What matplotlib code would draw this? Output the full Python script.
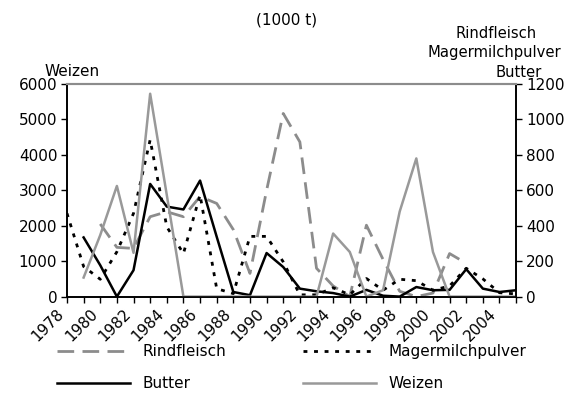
import matplotlib
matplotlib.use('Agg')
import matplotlib.pyplot as plt
import matplotlib.transforms as mtransforms
import numpy as np

nan = np.nan
years = list(range(1978, 2006))

# right axis (1000 t)
rindfleisch = [nan, nan, 410, 278, 272, 451, 479, 451, 565, 526, 378, 131, 600, 1034,
               873, 160, 60, 0, 403, 210, 30, 0, 20, 243, 188, nan, nan, nan]
magermilch = [470, 170, 98, 253, 470, 885, 394, 243, 574, 45, 17, 340, 340, 196,
              10, 10, 50, 10, 102, 36, 98, 90, 36, 60, 160, 100, 22, 15]
butter = [nan, 334, 177, 0, 149, 636, 508, 492, 655, 338, 26, 8, 246, 167,
          45, 30, 20, 0, 38, 5, 0, 54, 36, 38, 155, 45, 26, 36]
# left axis (1000 t)
weizen = [nan, 538, 1736, 3123, 1236, 5726, 2868, 0, 0, 0, 0, 0, 0, 0,
          0, 0, 1780, 1260, 0, 180, 2400, 3900, 1260, 0, 0, 0, 0, 0]

plt.rcParams['font.family'] = 'DejaVu Sans'
plt.rcParams['font.size'] = 11

fig = plt.figure(figsize=(5.7, 4.16), dpi=100)
ax = fig.add_axes([0.1175, 0.287, 0.788, 0.511])
ax2 = ax.twinx()

x = np.arange(len(years))
gray = '#8c8c8c'

l1, = ax2.plot(x, rindfleisch, color=gray, lw=2, dashes=(6, 3), label='Rindfleisch')
l2, = ax2.plot(x, magermilch, color='black', lw=2, dashes=(1.4, 2.4), label='Magermilchpulver')
l3, = ax2.plot(x, butter, color='black', lw=1.8, label='Butter')
l4, = ax.plot(x, weizen, color='#999999', lw=1.8, label='Weizen')
ax.set_zorder(ax2.get_zorder() + 1)
ax.patch.set_visible(False)

ax.set_xlim(0, 27)
ax.set_ylim(0, 6000)
ax2.set_ylim(0, 1200)
ax.set_yticks(range(0, 6001, 1000))
ax2.set_yticks(range(0, 1201, 200))

ax.set_xticks(x)
ax.set_xticklabels([str(y) if (y - 1978) % 2 == 0 else '' for y in years],
                   rotation=45, ha='right')
shift = mtransforms.ScaledTranslation(-0.085, 0, fig.dpi_scale_trans)
for lab in ax.get_xticklabels():
    lab.set_transform(lab.get_transform() + shift)

for a in (ax, ax2):
    a.tick_params(length=4, width=1, pad=3)
    a.spines['top'].set_color(gray)
    a.spines['top'].set_linewidth(1.5)
    for s in ('left', 'right', 'bottom'):
        a.spines[s].set_linewidth(1.2)

fig.text(0.503, 0.952, '(1000 t)', ha='center', va='center')
fig.text(0.127, 0.829, 'Weizen', ha='center', va='center')
fig.text(0.87, 0.92, 'Rindfleisch', ha='center', va='center', fontsize=10.6)
fig.text(0.868, 0.873, 'Magermilchpulver', ha='center', va='center', fontsize=10.6)
fig.text(0.909, 0.826, 'Butter', ha='center', va='center', fontsize=10.6)

fig.legend(handles=[l1, l3, l2, l4], loc='upper left', bbox_to_anchor=(0.1, 0.172),
           ncol=2, frameon=False, handlelength=4.8, handletextpad=0.8,
           columnspacing=5.0, labelspacing=1.1, borderpad=0, borderaxespad=0)

fig.savefig('out.png', dpi=100)
